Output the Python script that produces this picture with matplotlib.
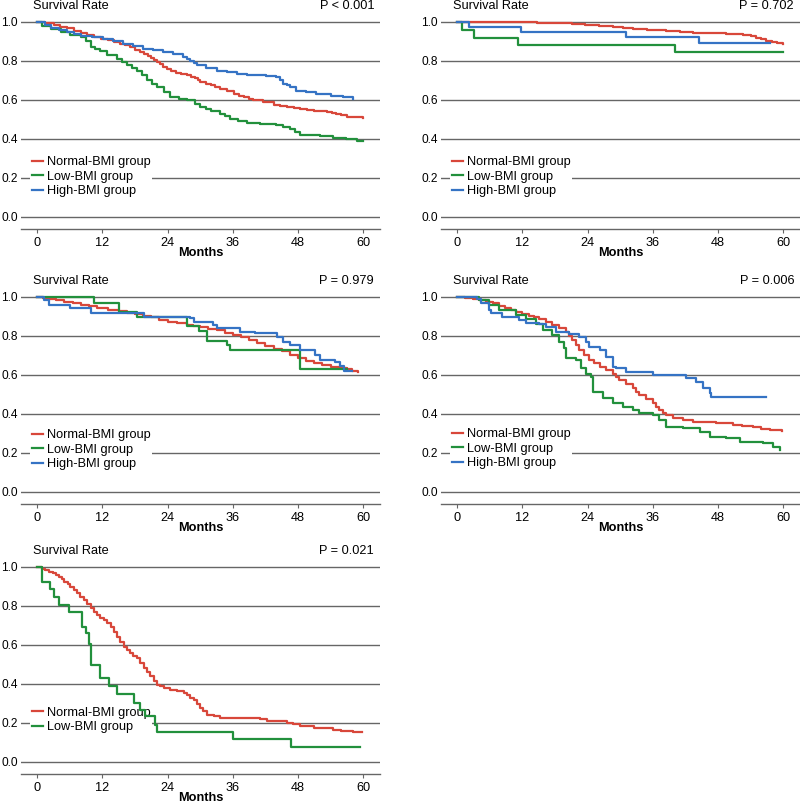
import matplotlib.pyplot as plt

plt.rcParams['font.family'] = ['Liberation Sans', 'DejaVu Sans']

RED = '#d8473a'
GREEN = '#22903c'
BLUE = '#3573c4'
GRID = '#666666'

labels = ['Normal-BMI group', 'Low-BMI group', 'High-BMI group']
p_values = ['P < 0.001', 'P = 0.702', 'P = 0.979', 'P = 0.006', 'P = 0.021']
month_ticks = [0, 12, 24, 36, 48, 60]
rate_ticks = [0.0, 0.2, 0.4, 0.6, 0.8, 1.0]

# panel 1
p1_normal_t = [0, 1.5, 3, 4.2, 5.5, 6.8, 8, 9.2, 10.4, 11.7, 13, 14.2, 15.3, 16.2, 17, 18, 19, 19.7, 20.3, 20.9, 21.4, 22, 22.6, 23.2, 23.9, 24.7, 25.5, 26.5, 27.6, 28.3, 29, 29.5, 30, 31, 32, 32.8, 33.7, 35, 36.2, 37.1, 38, 38.9, 39.8, 41.5, 43.5, 44.7, 46, 47.2, 48.4, 49.7, 51, 52.2, 53.3, 54.2, 55, 56, 57, 60]
p1_normal_s = [1.0, 0.993, 0.985, 0.975, 0.966, 0.955, 0.945, 0.934, 0.923, 0.914, 0.905, 0.896, 0.888, 0.879, 0.87, 0.858, 0.846, 0.835, 0.825, 0.814, 0.803, 0.793, 0.782, 0.771, 0.76, 0.75, 0.74, 0.733, 0.726, 0.718, 0.71, 0.7, 0.691, 0.683, 0.675, 0.666, 0.657, 0.645, 0.631, 0.622, 0.613, 0.605, 0.597, 0.587, 0.575, 0.57, 0.565, 0.56, 0.554, 0.55, 0.545, 0.541, 0.537, 0.532, 0.527, 0.52, 0.512, 0.508]
p1_low_t = [0, 0.9, 2.5, 4.3, 6, 8, 8.9, 9.8, 10.7, 11.5, 12.9, 14.7, 15.6, 16.5, 17.5, 18.4, 19.3, 20.2, 21.1, 22, 23.3, 24.5, 26, 27.5, 29, 30, 31, 32, 33.7, 34.6, 35.5, 37, 38.6, 41, 44, 45.3, 46.5, 47.5, 48.4, 52, 54.5, 56.9, 58.8, 60]
p1_low_s = [1.0, 0.98, 0.965, 0.949, 0.935, 0.923, 0.9, 0.871, 0.86, 0.85, 0.828, 0.811, 0.794, 0.777, 0.764, 0.75, 0.725, 0.7, 0.683, 0.666, 0.64, 0.614, 0.606, 0.597, 0.58, 0.563, 0.555, 0.545, 0.528, 0.515, 0.503, 0.492, 0.482, 0.477, 0.472, 0.462, 0.451, 0.435, 0.42, 0.413, 0.405, 0.4, 0.388, 0.388]
p1_high_t = [0, 1.5, 2.5, 4, 5.5, 6.8, 8, 10, 12.1, 14, 15.8, 17.6, 19.5, 21.3, 23.2, 25, 26.9, 27.6, 28.2, 28.8, 29.4, 31, 33.1, 35, 36.8, 38.6, 40.4, 42.2, 44, 44.6, 45.3, 45.9, 46.5, 47.7, 49.5, 51.4, 54, 56.3, 58.1]
p1_high_s = [1.0, 0.985, 0.97, 0.96, 0.949, 0.94, 0.93, 0.922, 0.914, 0.9, 0.889, 0.876, 0.863, 0.854, 0.846, 0.833, 0.82, 0.81, 0.8, 0.788, 0.777, 0.762, 0.75, 0.742, 0.734, 0.73, 0.726, 0.722, 0.717, 0.7, 0.683, 0.674, 0.665, 0.648, 0.64, 0.631, 0.622, 0.614, 0.605]

# panel 2
p2_normal_t = [0, 14.7, 18, 21.2, 23.6, 26, 28.6, 30.5, 32.3, 35, 38.4, 41, 43.4, 46, 49.5, 52.6, 54, 55, 56, 56.9, 57.9, 58.8, 60]
p2_normal_s = [1.0, 0.995, 0.993, 0.99, 0.983, 0.977, 0.973, 0.967, 0.961, 0.957, 0.953, 0.949, 0.944, 0.942, 0.938, 0.931, 0.925, 0.919, 0.91, 0.902, 0.898, 0.894, 0.889]
p2_low_t = [0, 0.8, 3.1, 11.2, 40, 60]
p2_low_s = [1.0, 0.958, 0.918, 0.881, 0.843, 0.843]
p2_high_t = [0, 2.2, 11.7, 31, 44.5, 57.5]
p2_high_s = [1.0, 0.975, 0.948, 0.922, 0.89, 0.89]

# panel 3
p3_normal_t = [0, 1, 2, 3.5, 5, 6.5, 8, 9.5, 11, 13, 15, 16.5, 18, 19.5, 21, 22.5, 24, 25.7, 27.5, 28.7, 30, 31.5, 33, 34.5, 36, 37.5, 39, 40.5, 42, 43.5, 45, 46.5, 48, 49.5, 51, 52.5, 54, 55.5, 57, 58, 59]
p3_normal_s = [1.0, 0.995, 0.99, 0.983, 0.975, 0.968, 0.96, 0.953, 0.945, 0.935, 0.925, 0.918, 0.91, 0.903, 0.895, 0.883, 0.872, 0.864, 0.856, 0.85, 0.845, 0.837, 0.828, 0.817, 0.805, 0.793, 0.78, 0.764, 0.748, 0.734, 0.72, 0.703, 0.685, 0.672, 0.66, 0.65, 0.64, 0.635, 0.63, 0.622, 0.617]
p3_low_t = [0, 10.4, 15, 18.4, 27.6, 29.7, 31.2, 34.9, 35.5, 48.4, 57]
p3_low_s = [1.0, 0.971, 0.923, 0.898, 0.85, 0.825, 0.775, 0.753, 0.728, 0.629, 0.629]
p3_high_t = [0, 1.2, 2.1, 6.1, 9.8, 18.4, 19.6, 28.2, 28.8, 32.4, 33, 37.3, 40, 44.1, 45.3, 46.5, 48.4, 51.1, 52, 54.8, 55.8, 56.5, 58]
p3_high_s = [1.0, 0.983, 0.958, 0.941, 0.918, 0.915, 0.898, 0.89, 0.872, 0.856, 0.839, 0.821, 0.813, 0.796, 0.77, 0.754, 0.728, 0.703, 0.677, 0.668, 0.645, 0.62, 0.62]

# panel 4
p4_normal_t = [0, 1.5, 2.8, 4, 5.2, 6.5, 7.6, 8.7, 9.8, 10.8, 12, 13.2, 14.2, 15.1, 16.3, 17.5, 18.8, 20, 20.6, 21.2, 21.8, 22.5, 23.4, 24.3, 25.2, 26.2, 27.4, 28.6, 29.2, 29.8, 31, 32.3, 32.9, 33.5, 34.8, 36, 36.6, 37.2, 37.8, 38.5, 39.7, 41.5, 43.4, 45.5, 47.7, 50.8, 52.5, 54.5, 56, 57.5, 59.7]
p4_normal_s = [1.0, 0.995, 0.99, 0.983, 0.975, 0.966, 0.955, 0.944, 0.933, 0.923, 0.912, 0.903, 0.895, 0.889, 0.872, 0.855, 0.838, 0.82, 0.8, 0.778, 0.752, 0.727, 0.7, 0.676, 0.66, 0.642, 0.625, 0.607, 0.59, 0.573, 0.552, 0.531, 0.514, 0.497, 0.475, 0.454, 0.437, 0.42, 0.407, 0.394, 0.377, 0.368, 0.36, 0.356, 0.352, 0.343, 0.337, 0.331, 0.324, 0.317, 0.314]
p4_low_t = [0, 4, 5.8, 7.7, 10.8, 12.6, 14.5, 15.7, 17.5, 18.8, 19.7, 20, 21.8, 22.8, 23.7, 24.6, 24.9, 26.8, 28.6, 30.5, 32.3, 33.5, 36, 37.2, 38.5, 41.5, 44.6, 46.5, 49.5, 52, 56.3, 58.2, 59.4]
p4_low_s = [1.0, 0.983, 0.957, 0.932, 0.906, 0.889, 0.863, 0.829, 0.804, 0.77, 0.736, 0.684, 0.676, 0.633, 0.607, 0.59, 0.514, 0.48, 0.454, 0.437, 0.42, 0.403, 0.394, 0.369, 0.334, 0.326, 0.309, 0.283, 0.275, 0.258, 0.249, 0.232, 0.215]
p4_high_t = [0, 3.7, 4.3, 5.8, 6.2, 8.3, 11.4, 12.6, 15, 16.3, 18.2, 20.6, 22.5, 23.7, 24.3, 26.2, 27.4, 28.6, 29.2, 31.1, 36, 42.2, 44, 45.2, 46.5, 46.8, 56.9]
p4_high_s = [1.0, 0.99, 0.966, 0.932, 0.915, 0.898, 0.88, 0.867, 0.863, 0.846, 0.82, 0.812, 0.795, 0.77, 0.744, 0.727, 0.693, 0.642, 0.633, 0.616, 0.6, 0.582, 0.565, 0.531, 0.505, 0.485, 0.485]

# panel 5
p5_normal_t = [0, 0.8, 1.5, 2.2, 2.8, 3.4, 4, 4.5, 5, 5.6, 6.1, 6.7, 7.3, 7.9, 8.6, 9.2, 9.8, 10.4, 11, 11.6, 12.2, 12.8, 13.5, 14.1, 14.7, 15.3, 15.9, 16.5, 17.1, 17.7, 18.4, 19, 19.6, 20.2, 20.8, 21.4, 22, 22.6, 23.3, 24.5, 25.7, 27, 27.6, 28.2, 28.8, 29.4, 30, 30.6, 31.2, 32.5, 33.7, 41, 42.3, 45.9, 47, 48.4, 51, 54.5, 56, 58.2, 59.7]
p5_normal_s = [1.0, 0.991, 0.983, 0.974, 0.966, 0.957, 0.949, 0.94, 0.923, 0.914, 0.898, 0.881, 0.864, 0.847, 0.83, 0.81, 0.787, 0.77, 0.753, 0.74, 0.727, 0.71, 0.693, 0.668, 0.642, 0.617, 0.591, 0.574, 0.557, 0.545, 0.532, 0.506, 0.48, 0.459, 0.438, 0.416, 0.395, 0.387, 0.378, 0.37, 0.361, 0.352, 0.345, 0.33, 0.315, 0.295, 0.277, 0.26, 0.243, 0.235, 0.226, 0.218, 0.209, 0.2, 0.192, 0.183, 0.175, 0.166, 0.16, 0.153, 0.153]
p5_low_t = [0, 0.9, 2.4, 3.1, 4, 5.8, 8.3, 8.9, 9.5, 9.8, 11.6, 13.2, 14.7, 17.8, 19, 19.9, 21.7, 22, 36.1, 46.8, 59.4]
p5_low_s = [1.0, 0.923, 0.884, 0.846, 0.804, 0.77, 0.693, 0.66, 0.607, 0.498, 0.43, 0.387, 0.35, 0.302, 0.268, 0.234, 0.19, 0.154, 0.115, 0.078, 0.078]

panels = [
    [(p1_normal_t, p1_normal_s, RED), (p1_low_t, p1_low_s, GREEN), (p1_high_t, p1_high_s, BLUE)],
    [(p2_normal_t, p2_normal_s, RED), (p2_low_t, p2_low_s, GREEN), (p2_high_t, p2_high_s, BLUE)],
    [(p3_normal_t, p3_normal_s, RED), (p3_low_t, p3_low_s, GREEN), (p3_high_t, p3_high_s, BLUE)],
    [(p4_normal_t, p4_normal_s, RED), (p4_low_t, p4_low_s, GREEN), (p4_high_t, p4_high_s, BLUE)],
    [(p5_normal_t, p5_normal_s, RED), (p5_low_t, p5_low_s, GREEN)],
]

# axes boxes in pixels: left, top, bottom (figure is 800 x 802)
W, H = 800, 802
boxes = [(21, 16, 229), (441, 16, 229), (21, 291, 504), (441, 291, 504), (21, 561, 774)]
legend_y = [0.32, 0.32, 0.33, 0.335, 0.29]
FS = 9.2

fig = plt.figure(figsize=(8, 8.02), dpi=100)

for i, curves in enumerate(panels):
    left, top, bottom = boxes[i]
    ax = fig.add_axes([left / W, 1 - bottom / H, 359 / W, (bottom - top) / H])
    ax.set_xlim(-3.0, 63.1)
    ax.set_ylim(-0.062, 1.03)

    for y in rate_ticks:
        ax.axhline(y, color=GRID, lw=1.0, zorder=1)

    handles = []
    for (t, s, c), lab in zip(curves, labels):
        h, = ax.step(t, s, where='post', color=c, lw=1.6, zorder=3, label=lab)
        handles.append(h)

    leg = ax.legend(handles=handles, loc='upper left',
                    bbox_to_anchor=(-1.3, legend_y[i]), bbox_transform=ax.transData,
                    frameon=True, facecolor='white', edgecolor='none', framealpha=1,
                    fancybox=False, fontsize=FS, handlelength=0.9, handletextpad=0.3,
                    labelspacing=0.2, borderpad=0.12, borderaxespad=0)
    leg.set_zorder(1.5)

    for sp in ['left', 'top', 'right']:
        ax.spines[sp].set_visible(False)
    ax.spines['bottom'].set_color(GRID)
    ax.spines['bottom'].set_linewidth(1.0)

    ax.set_xticks(month_ticks)
    ax.set_yticks(rate_ticks)
    ax.set_yticklabels([f'{v:.1f}' for v in rate_ticks])
    ax.tick_params(axis='y', length=0, pad=2.5, labelsize=8.6)
    ax.tick_params(axis='x', length=3, width=0.8, color=GRID, pad=3, labelsize=FS)
    ax.set_xlabel('Months', fontsize=FS, fontweight='bold', labelpad=-2)

    ax.text(-0.7, 1.08, 'Survival Rate', fontsize=FS, ha='left', va='center', clip_on=False)
    ax.text(62, 1.08, p_values[i], fontsize=FS, ha='right', va='center', clip_on=False)

fig.savefig('out.png', dpi=100)
